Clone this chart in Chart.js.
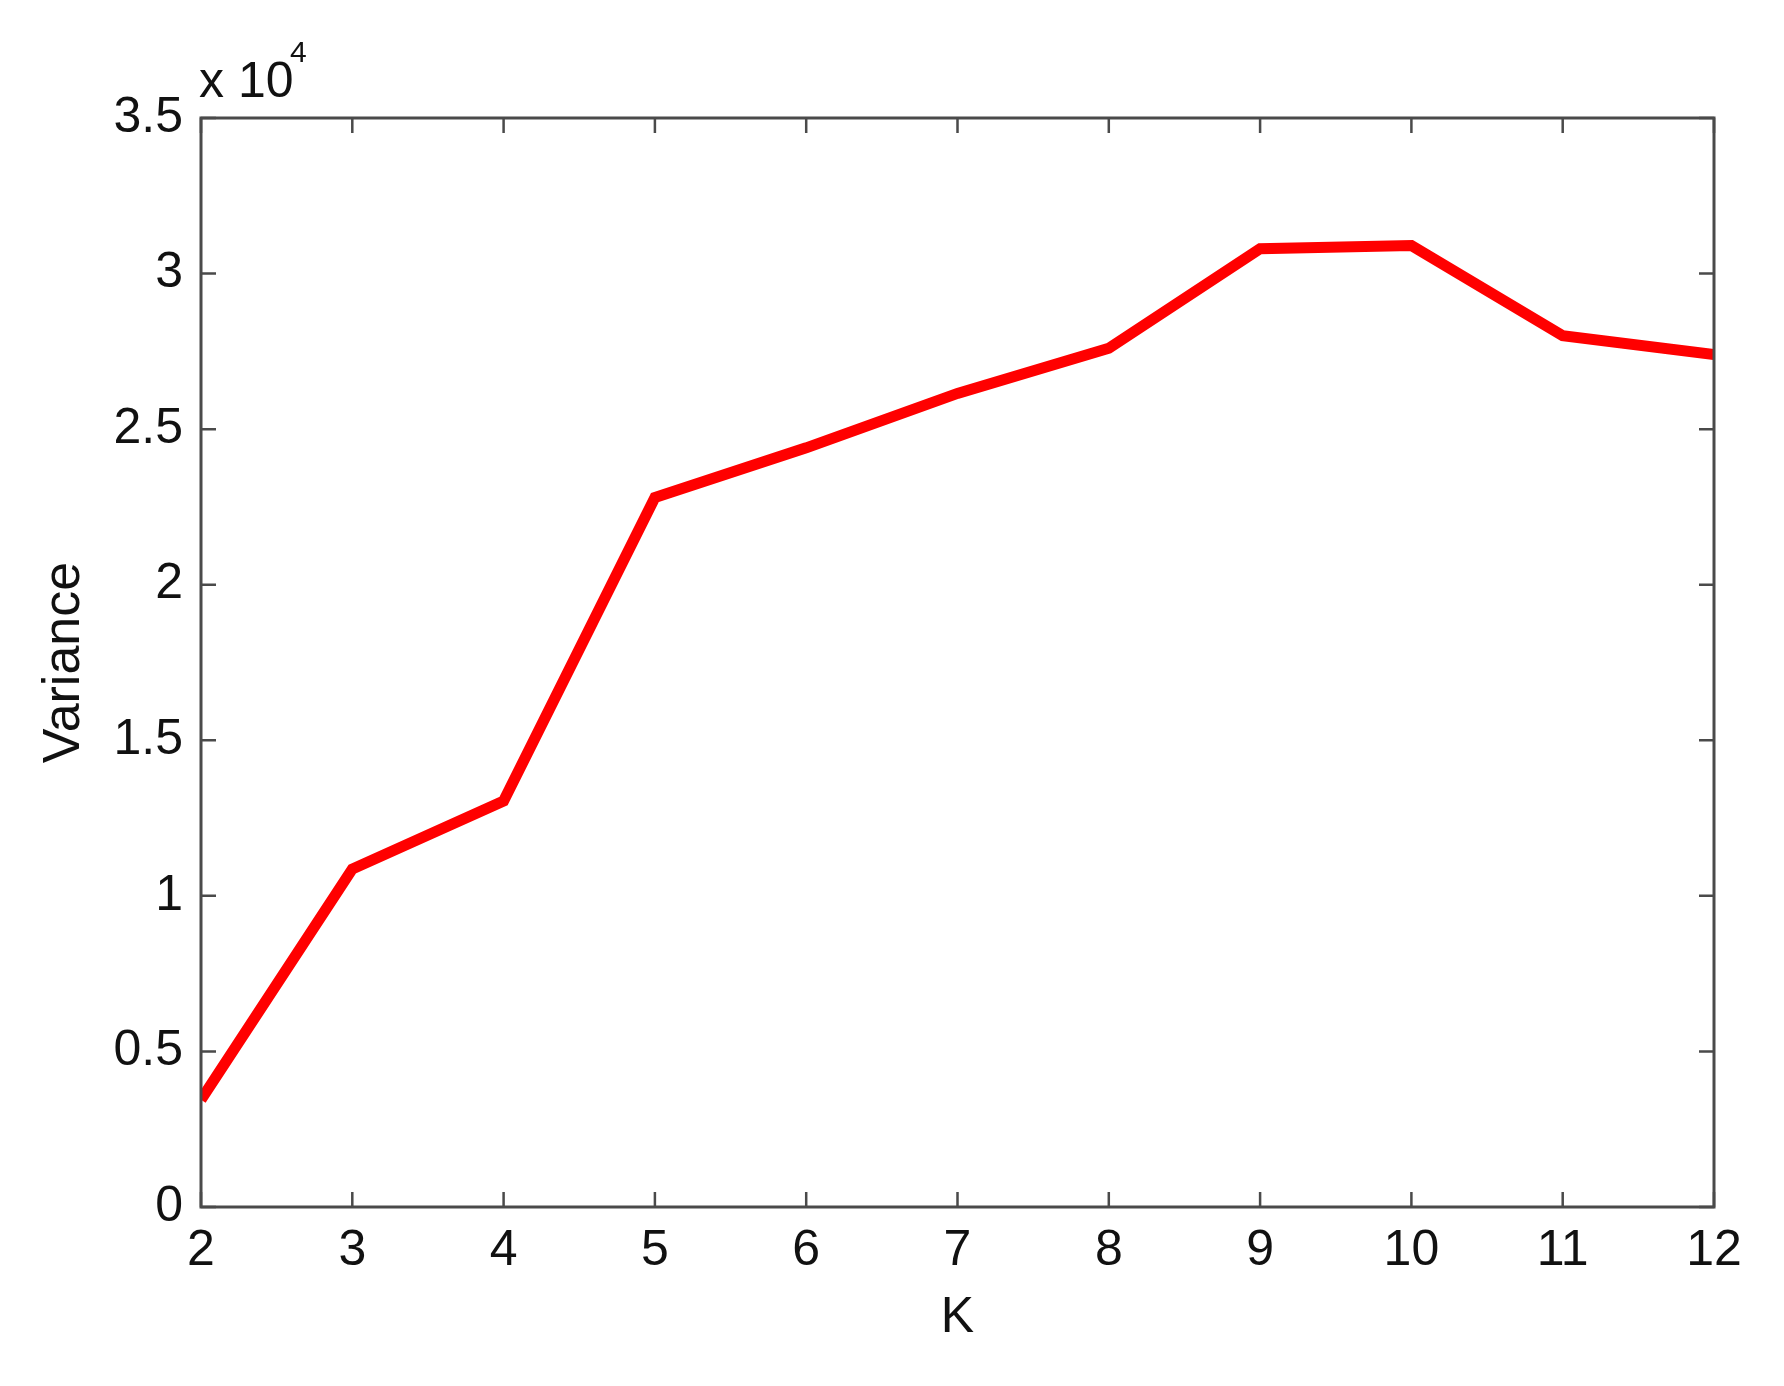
<!DOCTYPE html>
<html>
<head>
<meta charset="utf-8">
<script src="https://cdn.jsdelivr.net/npm/chart.js@4.4.1/dist/chart.umd.min.js"></script>
<style>
  html, body { margin: 0; padding: 0; background: #fff; }
  #wrap { width: 1784px; height: 1386px; }
</style>
</head>
<body>
<div id="wrap"><canvas id="chart" width="1784" height="1386"></canvas></div>
<script>
// values (variance in raw units, axis shows x 10^4)
const K_VALUES = [2, 3, 4, 5, 6, 7, 8, 9, 10, 11, 12];
const VARIANCE = [3450, 10860, 13050, 22800, 24400, 26150, 27600, 30800, 30900, 28000, 27400];
const Y_TICKS = [0, 5000, 10000, 15000, 20000, 25000, 30000, 35000];

const FONT = 'Liberation Sans, Arial, Helvetica, sans-serif';
const AXIS_COLOR = '#4a4a4a';

// matlab-ish box with inward ticks on all four sides, plus the x 10^4 note
const boxPlugin = {
  id: 'box',
  afterDraw: (chart) => {
    const ctx = chart.ctx;
    const area = chart.chartArea;
    const xs = chart.scales.x;
    const ys = chart.scales.y;
    const tl = 15;
    ctx.save();
    ctx.strokeStyle = AXIS_COLOR;
    ctx.lineWidth = 3;
    ctx.strokeRect(area.left, area.top, area.right - area.left, area.bottom - area.top);
    ctx.lineWidth = 2.5;
    ctx.beginPath();
    K_VALUES.forEach((k) => {
      let px = xs.getPixelForValue(k);
      ctx.moveTo(px, area.bottom);
      ctx.lineTo(px, area.bottom - tl);
      ctx.moveTo(px, area.top);
      ctx.lineTo(px, area.top + tl);
    });
    Y_TICKS.forEach((v) => {
      let py = ys.getPixelForValue(v);
      ctx.moveTo(area.left, py);
      ctx.lineTo(area.left + tl, py);
      ctx.moveTo(area.right, py);
      ctx.lineTo(area.right - tl, py);
    });
    ctx.stroke();

    ctx.fillStyle = '#111';
    ctx.textBaseline = 'alphabetic';
    ctx.textAlign = 'left';
    ctx.font = '50px ' + FONT;
    ctx.fillText('x 10', area.left - 2, area.top - 21);
    ctx.font = '30px ' + FONT;
    ctx.fillText('4', area.left + 89, area.top - 56);
    ctx.restore();
  },
};

const ctx = document.getElementById('chart');
new Chart(ctx, {
  type: 'line',
  data: {
    datasets: [
      {
        label: 'Variance',
        data: K_VALUES.map((k, i) => ({ x: k, y: VARIANCE[i] })),
        borderColor: '#ff0000',
        borderWidth: 11,
        borderJoinStyle: 'miter',
        borderCapStyle: 'butt',
        pointRadius: 0,
        fill: false,
        tension: 0,
      },
    ],
  },
  options: {
    responsive: false,
    animation: false,
    devicePixelRatio: 1,
    layout: { padding: { left: 0, right: 70, top: 118, bottom: 0 } },
    plugins: {
      legend: { display: false },
      tooltip: { enabled: false },
    },
    scales: {
      x: {
        type: 'linear',
        min: 2,
        max: 12,
        afterFit: (scale) => { scale.height = 179; },
        grid: { display: false, drawTicks: false },
        border: { display: false },
        ticks: {
          stepSize: 1,
          padding: 14,
          color: '#111',
          font: { family: FONT, size: 50 },
        },
        title: {
          display: true,
          text: 'K',
          color: '#111',
          font: { family: FONT, size: 50 },
          padding: { top: 0, bottom: 38 },
        },
      },
      y: {
        min: 0,
        max: 35000,
        afterFit: (scale) => { scale.width = 201; },
        afterBuildTicks: (scale) => {
          scale.ticks = Y_TICKS.map((v) => ({ value: v }));
        },
        grid: { display: false, drawTicks: false },
        border: { display: false },
        ticks: {
          padding: 18,
          color: '#111',
          font: { family: FONT, size: 50 },
          callback: (v) => String(v / 10000),
        },
        title: {
          display: true,
          text: 'Variance',
          color: '#111',
          font: { family: FONT, size: 52 },
          padding: { top: 33, bottom: 0 },
        },
      },
    },
  },
  plugins: [boxPlugin],
});
</script>
</body>
</html>
